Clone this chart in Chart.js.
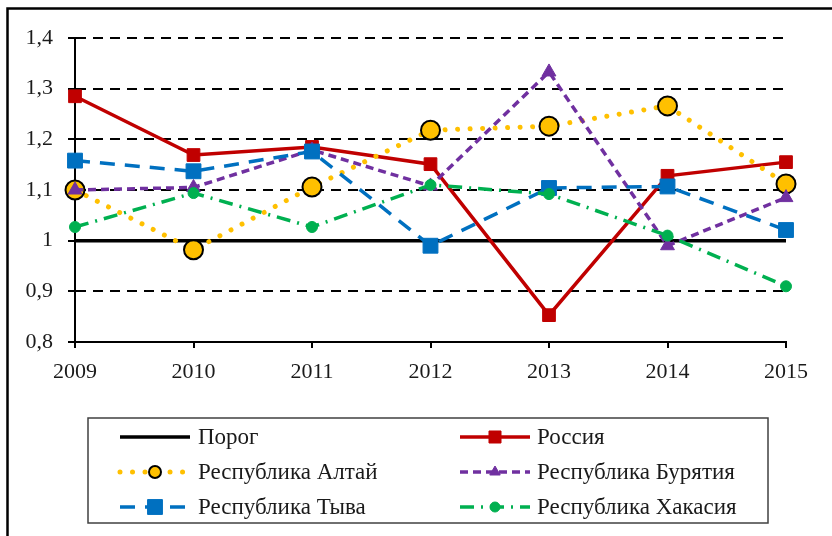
<!DOCTYPE html>
<html>
<head>
<meta charset="utf-8">
<script src="https://cdn.jsdelivr.net/npm/chart.js@4"></script>
<style>
  body { margin: 0; background: #fff; }
  #wrap { width: 832px; height: 536px; }
</style>
</head>
<body>
<div id="wrap"><canvas id="chart" width="832" height="536"></canvas></div>
<script>
const years = ["2009", "2010", "2011", "2012", "2013", "2014", "2015"];
const seriesNames = ["Порог", "Россия", "Республика Алтай", "Республика Бурятия", "Республика Тыва", "Республика Хакасия"];

const porog = [1, 1, 1, 1, 1, 1, 1];
const russia = [1.285, 1.169, 1.185, 1.151, 0.853, 1.128, 1.155];
const altai = [1.1, 0.982, 1.106, 1.218, 1.226, 1.266, 1.112];
const buryatia = [1.1, 1.105, 1.179, 1.108, 1.333, 0.99, 1.085];
const tyva = [1.158, 1.137, 1.176, 0.99, 1.104, 1.107, 1.021];
const khakasia = [1.027, 1.094, 1.027, 1.11, 1.092, 1.01, 0.91];

const yTicks = [0.8, 0.9, 1, 1.1, 1.2, 1.3, 1.4];

const serif = "'Liberation Serif', 'Times New Roman', serif";

function fmt(v) {
  return (Math.round(v * 10) / 10).toString().replace(".", ",");
}

// line + marker styles, same order as seriesNames
const styles = [
  { color: "#000000", width: 3.5, dash: [], point: false },
  { color: "#C00000", width: 3.5, dash: [], point: "rect", radius: 9, legendR: 8.5, pointBg: "#C00000", pointBorder: "#C00000", pointBorderWidth: 1 },
  { color: "#FFC000", width: 5, dash: [0.01, 12.5], cap: "round", point: "circle", radius: 9.5, legendR: 6, pointBg: "#FFC000", pointBorder: "#000000", pointBorderWidth: 2 },
  { color: "#7030A0", width: 3.5, dash: [8, 5], point: "triangle", radius: 8, legendR: 6, pointBg: "#7030A0", pointBorder: "#7030A0", pointBorderWidth: 1 },
  { color: "#0070C0", width: 3.5, dash: [15, 10], point: "rect", radius: 10.5, legendR: 10.5, pointBg: "#0070C0", pointBorder: "#0070C0", pointBorderWidth: 1 },
  { color: "#00B050", width: 3.5, dash: [14, 7, 2, 7], point: "circle", radius: 5.5, legendR: 5, pointBg: "#00B050", pointBorder: "#00B050", pointBorderWidth: 1 },
];

const values = [porog, russia, altai, buryatia, tyva, khakasia];

const datasets = values.map((data, i) => {
  const s = styles[i];
  return {
    label: seriesNames[i],
    data: data,
    borderColor: s.color,
    borderWidth: s.width,
    borderDash: s.dash,
    borderCapStyle: s.cap || "butt",
    pointStyle: s.point || "circle",
    pointRadius: s.point ? s.radius : 0,
    pointBackgroundColor: s.pointBg,
    pointBorderColor: s.pointBorder,
    pointBorderWidth: s.pointBorderWidth,
    tension: 0,
    fill: false,
    clip: false,
    order: values.length - i, // later series drawn on top
  };
});

function drawMarker(ctx, s, x, y) {
  if (!s.point) return;
  ctx.save();
  ctx.fillStyle = s.pointBg;
  ctx.strokeStyle = s.pointBorder;
  ctx.lineWidth = s.pointBorderWidth;
  ctx.setLineDash([]);
  ctx.beginPath();
  const r = s.legendR;
  if (s.point === "rect") {
    const h = r * Math.SQRT1_2;
    ctx.rect(x - h, y - h, 2 * h, 2 * h);
  } else if (s.point === "triangle") {
    ctx.moveTo(x, y - r);
    ctx.lineTo(x + r * 0.87, y + r * 0.5);
    ctx.lineTo(x - r * 0.87, y + r * 0.5);
    ctx.closePath();
  } else {
    ctx.arc(x, y, r, 0, Math.PI * 2);
  }
  ctx.fill();
  ctx.stroke();
  ctx.restore();
}

const framePlugin = {
  id: "frame",
  beforeDraw(chart) {
    const ctx = chart.ctx;
    ctx.save();
    ctx.fillStyle = "#fff";
    ctx.fillRect(0, 0, chart.width, chart.height);
    ctx.strokeStyle = "#000";
    ctx.lineWidth = 2.5;
    ctx.strokeRect(7.5, 8.5, 860, 560);
    ctx.restore();
  },
  afterDraw(chart) {
    const ctx = chart.ctx;
    ctx.save();
    // legend box
    ctx.strokeStyle = "#404040";
    ctx.lineWidth = 1.5;
    ctx.strokeRect(88, 418, 680, 105);
    const cols = [120, 460];
    const textX = [198, 537];
    const rows = [437, 472, 507];
    ctx.font = "23px " + serif;
    ctx.textBaseline = "middle";
    ctx.fillStyle = "#1a1a1a";
    seriesNames.forEach((name, i) => {
      const s = styles[i];
      const col = i % 2;
      const y = rows[Math.floor(i / 2)];
      const x0 = cols[col];
      ctx.save();
      ctx.strokeStyle = s.color;
      ctx.lineWidth = s.width;
      ctx.lineCap = s.cap || "butt";
      ctx.setLineDash(s.dash);
      ctx.beginPath();
      ctx.moveTo(x0, y);
      ctx.lineTo(x0 + 70, y);
      ctx.stroke();
      ctx.restore();
      drawMarker(ctx, s, x0 + 35, y);
      ctx.fillText(name, textX[col], y + 1);
    });
    ctx.restore();
  },
};

new Chart(document.getElementById("chart"), {
  type: "line",
  data: { labels: years, datasets: datasets },
  options: {
    responsive: false,
    animation: false,
    events: [],
    layout: { padding: { top: 38, right: 46, bottom: 146, left: 0 } },
    plugins: {
      legend: { display: false },
      tooltip: { enabled: false },
    },
    scales: {
      x: {
        offset: false,
        grid: { drawOnChartArea: false, drawTicks: true, tickLength: 6, color: "#000", lineWidth: 2 },
        border: { display: true, color: "#000", width: 2 },
        ticks: { color: "#1a1a1a", font: { family: serif, size: 22 }, padding: 11, maxRotation: 0 },
        afterFit(scale) { scale.height = 48; },
      },
      y: {
        min: 0.8,
        max: 1.4,
        afterBuildTicks(scale) { scale.ticks = yTicks.map((v) => ({ value: v })); },
        grid: { color: "#000", lineWidth: 2, tickLength: 7, tickColor: "#000", tickWidth: 2, tickBorderDash: [] },
        border: { display: true, color: "#000", width: 2, dash: [10, 7] },
        ticks: { color: "#1a1a1a", font: { family: serif, size: 22 }, padding: 15, callback: (v) => fmt(v) },
        afterFit(scale) { scale.width = 75; },
      },
    },
  },
  plugins: [framePlugin],
});
</script>
</body>
</html>
